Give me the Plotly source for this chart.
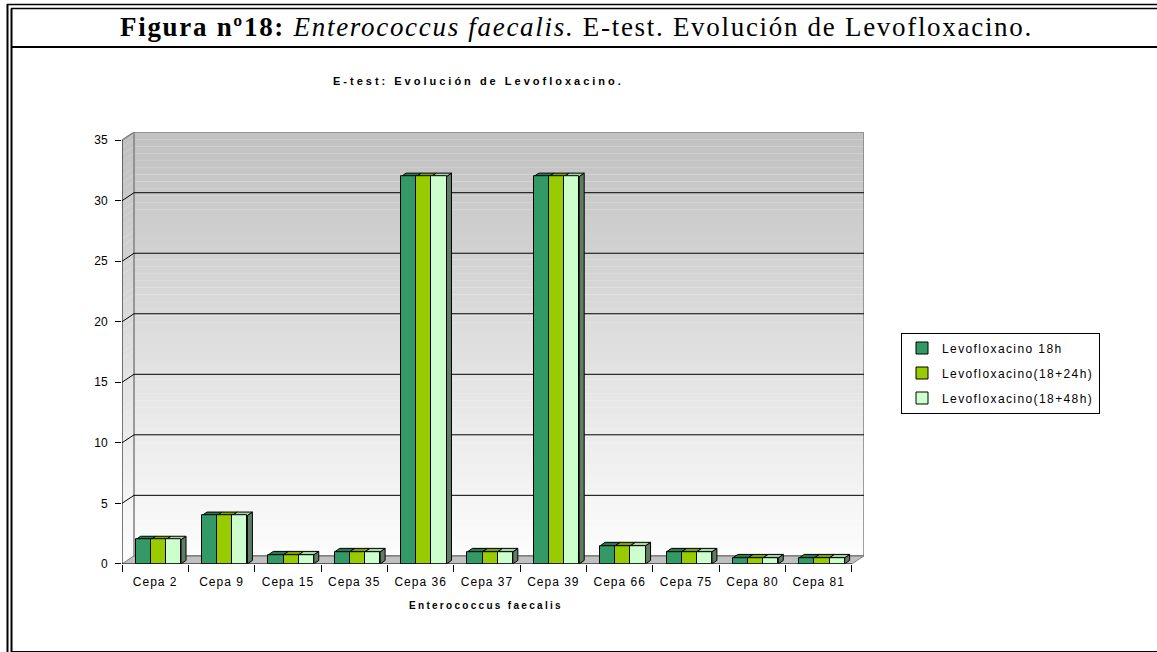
import plotly.graph_objects as go

# ---------------- data ----------------
categories = ["Cepa 2", "Cepa 9", "Cepa 15", "Cepa 35", "Cepa 36", "Cepa 37",
              "Cepa 39", "Cepa 66", "Cepa 75", "Cepa 80", "Cepa 81"]
levo_18h = [2, 4, 0.75, 1, 32, 1, 32, 1.5, 1, 0.5, 0.5]
levo_18_24h = [2, 4, 0.75, 1, 32, 1, 32, 1.5, 1, 0.5, 0.5]
levo_18_48h = [2, 4, 0.75, 1, 32, 1, 32, 1.5, 1, 0.5, 0.5]
series_names = ["Levofloxacino 18h", "Levofloxacino(18+24h)", "Levofloxacino(18+48h)"]
series_values = [levo_18h, levo_18_24h, levo_18_48h]
y_ticks = [0, 5, 10, 15, 20, 25, 30, 35]

# ---------------- style ----------------
W, H = 1157, 652          # reference picture size
FIG_H = 660               # figure height (viewport is slightly taller than the photo)
front_colors = ["#339966", "#99CC00", "#CCFFCC"]
top_colors = ["#267a50", "#7aa300", "#a6d4a6"]
side_color = "#5f7d62"
FONT = "Liberation Sans, Arial, sans-serif"
SERIF = "Liberation Serif, Times New Roman, serif"

def px(x):
    return x / W

def py(y):
    return 1 - y / H

# wall depth (in axis units) and bar depth
wx, wy = 0.181, 0.662
bx, by = 0.075, 0.28
ymax = y_ticks[-1]
n = len(categories)
xr = [-0.5, n - 0.5 + wx]
yr = [0, ymax + wy]
bw = 0.228
off0 = -0.294

idx = list(range(n))
fig = go.Figure()
shapes = []

# back wall gradient bands + left wall bands
NB = 60
for k in range(NB):
    a = wy + ymax * k / NB
    b = wy + ymax * (k + 1) / NB
    t = (k + 0.5) / NB
    g = int(round(253 - t * (253 - 192)))
    col = f"rgb({g},{g},{g})"
    shapes.append(dict(type="rect", xref="x", yref="y", x0=-0.5 + wx, x1=n - 0.5 + wx,
                       y0=a, y1=b + 0.01, fillcolor=col, line=dict(width=0), layer="below"))
    shapes.append(dict(type="path", xref="x", yref="y",
                       path=f"M {-0.5},{a - wy} L {-0.5 + wx},{a} L {-0.5 + wx},{b + 0.01} L {-0.5},{b - wy + 0.01} Z",
                       fillcolor=col, line=dict(width=0), layer="below"))

# floor
shapes.append(dict(type="path", xref="x", yref="y",
                   path=f"M -0.5,0 L {n - 0.5},0 L {n - 0.5 + wx},{wy} L {-0.5 + wx},{wy} Z",
                   fillcolor="#c0c0c0", line=dict(color="#808080", width=1), layer="below"))
# wall outlines
shapes.append(dict(type="rect", xref="x", yref="y", x0=-0.5 + wx, x1=n - 0.5 + wx, y0=wy, y1=ymax + wy,
                   line=dict(color="#808080", width=1.5), fillcolor="rgba(0,0,0,0)", layer="below"))
shapes.append(dict(type="path", xref="x", yref="y",
                   path=f"M -0.5,{ymax} L {-0.5 + wx},{ymax + wy}",
                   line=dict(color="#808080", width=1.5), layer="below"))

# gridlines on back wall and left wall
for v in y_ticks[1:-1]:
    shapes.append(dict(type="line", xref="x", yref="y", x0=-0.5 + wx, x1=n - 0.5 + wx, y0=v + wy, y1=v + wy,
                       line=dict(color="black", width=1), layer="below"))
    shapes.append(dict(type="line", xref="x", yref="y", x0=-0.5, x1=-0.5 + wx, y0=v, y1=v + wy,
                       line=dict(color="black", width=1), layer="below"))

# 3D bar sides (last series only visible) and tops
for i, vals in enumerate(series_values):
    off = off0 + i * bw
    for j, v in zip(idx, vals):
        x0 = j + off
        x1 = x0 + bw
        if i == len(series_values) - 1:
            shapes.append(dict(type="path", xref="x", yref="y",
                               path=f"M {x1},0 L {x1 + bx},{by} L {x1 + bx},{v + by} L {x1},{v} Z",
                               fillcolor=side_color, line=dict(color="black", width=1), layer="below"))
for i, vals in enumerate(series_values):
    off = off0 + i * bw
    for j, v in zip(idx, vals):
        x0 = j + off
        x1 = x0 + bw
        shapes.append(dict(type="path", xref="x", yref="y",
                           path=f"M {x0},{v} L {x1},{v} L {x1 + bx},{v + by} L {x0 + bx},{v + by} Z",
                           fillcolor=top_colors[i], line=dict(color="black", width=1), layer="below"))

# front axes lines
shapes.append(dict(type="line", xref="x", yref="y", x0=-0.5, x1=-0.5, y0=0, y1=ymax,
                   line=dict(color="black", width=1), layer="above"))
shapes.append(dict(type="line", xref="x", yref="y", x0=-0.5, x1=n - 0.5, y0=0, y1=0,
                   line=dict(color="black", width=1), layer="above"))

# bars (front faces)
for i, (name, vals) in enumerate(zip(series_names, series_values)):
    fig.add_trace(go.Bar(
        x=idx, y=vals, name=f'<span style="letter-spacing:1.4px">{name}</span>',
        width=bw, offset=off0 + i * bw,
        marker=dict(color=front_colors[i], line=dict(color="black", width=1)),
        legendgroup=f"g{i}", hoverinfo="skip",
    ))

# page frame
frame = [
    (7, 4.5, W, 4.5, 1.5), (11, 8.5, W, 8.5, 1.5),
    (7.5, 4, 7.5, H, 2), (11.5, 8.5, 11.5, H, 2),
    (11, 47, W, 47, 2), (11, 651, W, 651, 2),
]
for x0, y0, x1, y1, w in frame:
    shapes.append(dict(type="line", xref="paper", yref="paper", x0=px(x0), y0=py(y0), x1=px(x1), y1=py(y1),
                       line=dict(color="black", width=w), layer="above"))

annotations = [
    dict(text='<span style="letter-spacing:1.7px"><b>Figura nº18:</b> <i>Enterococcus faecalis.</i> E-test. Evolución de Levofloxacino.</span>',
         x=px(576), y=py(27), xref="paper", yref="paper", showarrow=False,
         font=dict(family=SERIF, size=27, color="black"), xanchor="center", yanchor="middle"),
    dict(text='<span style="letter-spacing:3px"><b>E-test: Evolución de Levofloxacino.</b></span>',
         x=px(478), y=py(81), xref="paper", yref="paper", showarrow=False,
         font=dict(family=FONT, size=11, color="black"), xanchor="center", yanchor="middle"),
    dict(text='<span style="letter-spacing:2.3px"><b>Enterococcus faecalis</b></span>',
         x=px(486), y=py(605), xref="paper", yref="paper", showarrow=False,
         font=dict(family=FONT, size=10, color="black"), xanchor="center", yanchor="middle"),
]

fig.update_layout(
    width=W, height=FIG_H, autosize=False,
    margin=dict(l=0, r=0, t=0, b=0),
    paper_bgcolor="white", plot_bgcolor="rgba(0,0,0,0)",
    barmode="overlay", bargap=0,
    showlegend=True,
    legend=dict(x=px(901), y=py(332), xanchor="left", yanchor="top",
                bordercolor="black", borderwidth=1, bgcolor="white",
                font=dict(family=FONT, size=12, color="black"),
                tracegroupgap=6, itemwidth=30, traceorder="grouped"),
    xaxis=dict(domain=[px(122), px(122 + 66.36 * (xr[1] - xr[0]))], range=xr,
               tickmode="array", tickvals=idx,
               ticktext=[f'<span style="letter-spacing:1px">{c}</span>' for c in categories],
               ticks="", ticklabelstandoff=9, showgrid=False, zeroline=False, showline=False,
               tickfont=dict(family=FONT, size=12, color="black"),
               minor=dict(tickmode="array", tickvals=[j - 0.5 for j in range(n + 1)],
                          ticks="outside", ticklen=7, tickcolor="black", tickwidth=1, showgrid=False),
               fixedrange=True),
    yaxis=dict(domain=[py(563), py(563 - 12.086 * yr[1])], range=yr,
               tickmode="array", tickvals=y_ticks, ticks="outside", ticklen=6, tickcolor="black",
               ticklabelstandoff=5,
               showgrid=False, zeroline=False, showline=False,
               tickfont=dict(family=FONT, size=12, color="black"), fixedrange=True),
    shapes=shapes,
    annotations=annotations,
)

post = (
    "var de=document.documentElement, bd=document.body;"
    "de.style.margin='0';de.style.padding='0';de.style.overflow='hidden';"
    "bd.style.margin='0';bd.style.padding='0';bd.style.overflow='hidden';"
)
fig.write_html("out.html", post_script=post, config={"displayModeBar": False})
